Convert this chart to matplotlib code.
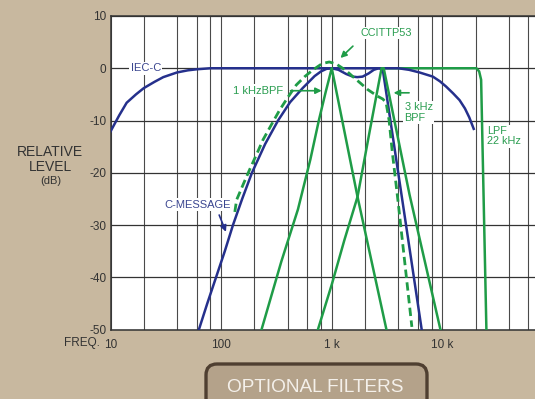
import matplotlib
matplotlib.use('Agg')
import matplotlib.pyplot as plt
from matplotlib.patches import FancyBboxPatch
from matplotlib.ticker import FixedLocator, FixedFormatter, NullFormatter

plt.rcParams['font.family'] = ['Liberation Sans', 'DejaVu Sans']
plt.rcParams['axes.unicode_minus'] = False

# ---------------- data ----------------
iec_f = [10, 12, 14, 17, 20, 25, 30, 40, 50, 60, 80, 4000, 5000, 6200, 8200,
         9500, 10800, 12500, 14300, 16000, 17500, 19200]
iec_db = [-12.1, -9.0, -6.6, -5.0, -3.8, -2.6, -1.7, -0.8, -0.4, -0.2, 0, 0,
          -0.3, -0.8, -1.6, -2.5, -3.5, -4.8, -6.1, -7.7, -9.4, -11.6]

cmsg_f = [63, 75, 90, 108, 128, 155, 190, 250, 327, 420, 546, 700, 800, 900,
          1000, 1150, 1350, 1550, 1700, 1900, 2150, 2400, 2650, 2800, 2900,
          3100, 4100, 6500]
cmsg_db = [-50, -45, -40, -35, -30, -25, -20, -14.5, -10, -6.5, -3.8, -1.5,
           -0.6, -0.1, 0, -0.3, -1.1, -1.6, -1.7, -1.6, -1.0, -0.3, 0, -0.1,
           -0.4, -4.5, -21.7, -50]

ccitt_f = [133, 138, 160, 181, 210, 239, 290, 338, 400, 478, 570, 677, 820,
           950, 1100, 1340, 1610, 1850, 2120, 2620, 2900, 3100, 3300, 3520,
           3990, 5300]
ccitt_db = [-27.5, -25.2, -22.0, -19.4, -16.4, -13.7, -10.5, -8.0, -5.6, -3.2,
            -1.6, -0.3, 0.9, 1.2, 0.8, -0.4, -1.9, -3.0, -4.1, -5.4, -5.9,
            -6.6, -10.0, -15.9, -25.8, -49.5]

bpf1k_f = [232, 350, 495, 640, 766, 880, 1000, 1710, 3120]
bpf1k_db = [-50, -37, -27, -17.5, -9.9, -4.6, 0, -24.6, -50]

bpf3k_f = [750, 1000, 1300, 1710, 2200, 2820, 2950, 5050, 9600]
bpf3k_db = [-50, -41.4, -32.9, -24.6, -12.1, 0, 0, -24.2, -50]

lpf_f = [3000, 20300, 21500, 22400, 25000]
lpf_db = [0, 0, -0.6, -2.2, -50]

x_ticks = [10, 100, 1000, 10000, 100000]
x_labels = ['10', '100', '1 k', '10 k', '100 k']
y_ticks = [-50, -40, -30, -20, -10, 0, 10]
y_labels = ['-50', '-40', '-30', '-20', '-10', '0', '10']

# ---------------- styles ----------------
NAVY = '#25308c'
GREEN = '#1f9c47'
GTXT = '#2a9d50'
NTXT = '#3b4690'
LBL = '#333333'
BG = '#c8b89f'

W, H = 535, 399
fig = plt.figure(figsize=(W / 100, H / 100), dpi=100)
fig.patch.set_facecolor(BG)

# pixel overlay axes for decorations
ov = fig.add_axes([0, 0, 1, 1])
ov.set_xlim(0, W)
ov.set_ylim(H, 0)
ov.axis('off')
ov.set_zorder(-1)
ov.patch.set_visible(False)

ax = fig.add_axes([110.5 / W, 1 - 329.5 / H, (553 - 110.5) / W, (329.5 - 16) / H])
ax.set_facecolor('white')
ax.set_xscale('log')
ax.set_xlim(10, 1e5)
ax.set_ylim(-50, 10)

minor = [m * d for d in (10, 100, 1000, 10000) for m in (2, 4, 6, 8)]
ax.xaxis.set_major_locator(FixedLocator(x_ticks))
ax.xaxis.set_major_formatter(FixedFormatter(x_labels))
ax.xaxis.set_minor_locator(FixedLocator(minor))
ax.xaxis.set_minor_formatter(NullFormatter())
ax.yaxis.set_major_locator(FixedLocator(y_ticks))
ax.yaxis.set_major_formatter(FixedFormatter(y_labels))
ax.yaxis.set_minor_locator(FixedLocator([]))

ax.grid(which='both', axis='x', color='#4a4a4a', lw=0.8)
ax.grid(which='major', axis='y', color='#333333', lw=0.9)
ax.set_axisbelow(True)
ax.tick_params(which='both', length=0, labelsize=8.5, colors=LBL)
ax.tick_params(axis='x', pad=7)
ax.tick_params(axis='y', pad=3)
for s in ax.spines.values():
    s.set_color('#333333')
    s.set_linewidth(1.1)

# ---------------- curves ----------------
ax.plot(lpf_f, lpf_db, color=GREEN, lw=1.8, zorder=3, solid_joinstyle='round')
ax.plot(iec_f, iec_db, color=NAVY, lw=1.8, zorder=4, solid_joinstyle='round')
ax.plot(cmsg_f, cmsg_db, color=NAVY, lw=1.8, zorder=4, solid_joinstyle='round')
ax.plot(bpf1k_f, bpf1k_db, color=GREEN, lw=1.8, zorder=5)
ax.plot(bpf3k_f, bpf3k_db, color=GREEN, lw=1.8, zorder=5)
ax.plot(ccitt_f, ccitt_db, color=GREEN, lw=2.0, ls=(0, (3, 1.6)), zorder=6)

# ---------------- labels ----------------
box = dict(boxstyle='square,pad=0.12', fc='white', ec='none')
ax.text(20.9, 0, 'IEC-C', color=NTXT, fontsize=8, ha='center', va='center',
        bbox=box, zorder=7)
ax.text(61.7, -26.1, 'C-MESSAGE', color=NTXT, fontsize=8, ha='center',
        va='center', bbox=box, zorder=7)
ax.annotate('', xy=(113, -31.8), xytext=(94, -27.6),
            arrowprops=dict(arrowstyle='-|>', color=NAVY, lw=1.2,
                            mutation_scale=9), zorder=7)
ax.text(214, -4.3, '1 kHzBPF', color=GTXT, fontsize=8, ha='center',
        va='center', bbox=box, zorder=7)
ax.annotate('', xy=(860, -4.3), xytext=(400, -4.3),
            arrowprops=dict(arrowstyle='-|>', color=GREEN, lw=1.2,
                            mutation_scale=9), zorder=7)
ax.text(3130, 6.75, 'CCITTP53', color=GTXT, fontsize=7.8, ha='center',
        va='center', bbox=box, zorder=7)
ax.annotate('', xy=(1150, 1.6), xytext=(1620, 4.6),
            arrowprops=dict(arrowstyle='-|>', color=GREEN, lw=1.2,
                            mutation_scale=9), zorder=7)
ax.text(4550, -8.5, '3 kHz\nBPF', color=GTXT, fontsize=7.8, ha='left',
        va='center', linespacing=1.05, bbox=box, zorder=7)
ax.annotate('', xy=(3420, -4.7), xytext=(5300, -4.7),
            arrowprops=dict(arrowstyle='-|>', color=GREEN, lw=1.2,
                            mutation_scale=9), zorder=7)
ax.text(25500, -13.0, 'LPF\n22 kHz', color=GTXT, fontsize=7.8, ha='left',
        va='center', linespacing=1.05, bbox=box, zorder=7)

# axis titles
ov.text(50, 152.5, 'RELATIVE', color=LBL, fontsize=10, ha='center', va='center')
ov.text(50, 167, 'LEVEL', color=LBL, fontsize=10, ha='center', va='center')
ov.text(51, 180.5, '(dB)', color=LBL, fontsize=8, ha='center', va='center')
ov.text(81.5, 343, 'FREQ.', color=LBL, fontsize=8.5, ha='center', va='center')

# button
btn = FancyBboxPatch((206, 364), 221, 50,
                     boxstyle='round,pad=0,rounding_size=11',
                     fc='#b4a28a', ec='#4f3f31', lw=2.4, zorder=1)
ov.add_patch(btn)
ov.text(315, 387.5, 'OPTIONAL FILTERS', color='#f4f0ea', fontsize=13.7,
        ha='center', va='center', zorder=2)

fig.savefig('out.png', dpi=100, facecolor=fig.get_facecolor())
